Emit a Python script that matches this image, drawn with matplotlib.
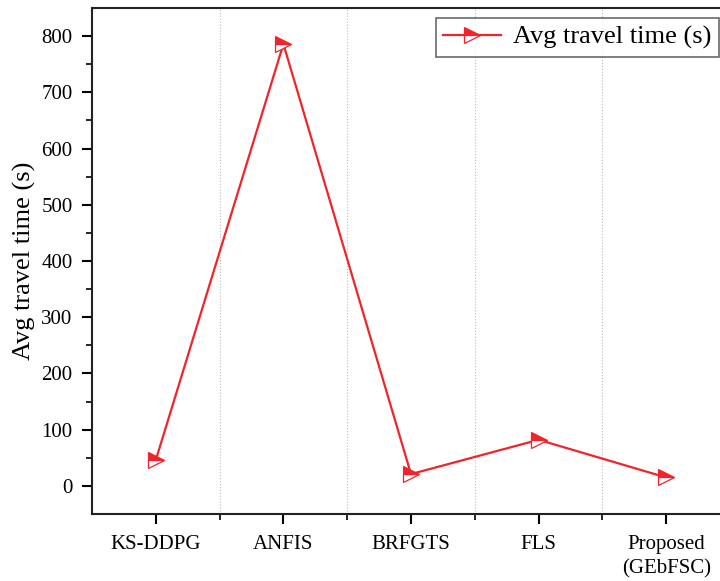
import matplotlib
matplotlib.use("Agg")
import matplotlib.pyplot as plt
import numpy as np

categories = ["KS-DDPG", "ANFIS", "BRFGTS", "FLS", "Proposed\n(GEbFSC)"]
avg_travel_time = [46, 786, 21, 82, 15]
y_ticks = [0, 100, 200, 300, 400, 500, 600, 700, 800]

plt.rcParams['font.family'] = ['Liberation Serif', 'DejaVu Serif']

fig = plt.figure(figsize=(7.2, 5.81), dpi=100)
ax = fig.add_axes([92/720, 67/581, 638/720, 506/581])

x = np.arange(len(categories))
red = '#f0242a'
line, = ax.plot(x, avg_travel_time, color=red, lw=1.6, marker='>', markersize=12,
        fillstyle='top', markerfacecolor=red, markerfacecoloralt='white',
        markeredgecolor=red, markeredgewidth=0.9, label='Avg travel time (s)')

ax.set_xlim(-0.5, len(categories) - 0.5)
ax.set_ylim(-50, 850)
ax.set_xticks(x)
ax.set_xticklabels(categories, fontsize=15, linespacing=1.35)
ax.set_xticks(np.arange(0.5, len(categories) - 0.5, 1.0), minor=True)
ax.set_yticks(y_ticks)
ax.set_yticklabels([str(v) for v in y_ticks], fontsize=15)
ax.set_yticks(np.arange(50, 850, 100), minor=True)

ax.grid(True, which='minor', axis='x', color='#bbbbbb', linestyle=':', lw=0.8)
ax.tick_params(axis='both', which='major', direction='out', length=7, width=1.5)
ax.tick_params(axis='x', which='major', pad=8)
ax.tick_params(axis='y', which='major', pad=7)
ax.tick_params(axis='both', which='minor', direction='out', length=4, width=1.2)
for s in ax.spines.values():
    s.set_linewidth(1.5)
    s.set_color('#222222')

ax.set_ylabel('Avg travel time (s)', fontsize=19, labelpad=4)

leg = fig.legend(handles=[line], loc='upper right', bbox_to_anchor=(719/720, 1 - 18/581),
                 fontsize=19, frameon=True, fancybox=False, edgecolor='#444444',
                 borderpad=0.28, handlelength=2.2, handletextpad=0.45, borderaxespad=0)
leg.get_frame().set_linewidth(1.2)

fig.savefig('out.png', dpi=100)
